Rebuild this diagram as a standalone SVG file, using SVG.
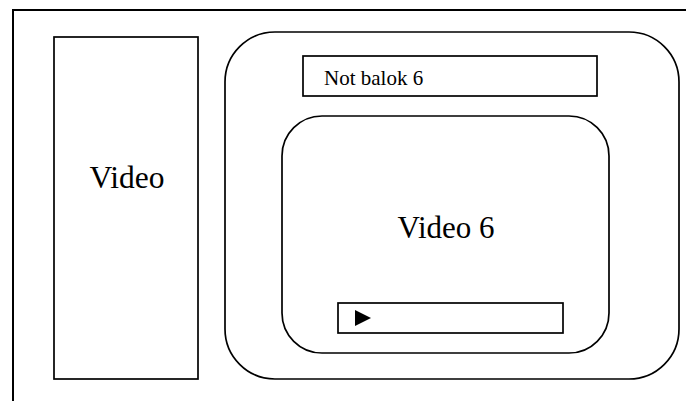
<svg xmlns="http://www.w3.org/2000/svg" width="686" height="401" viewBox="0 0 686 401">
  <style>
    .box { fill: #ffffff; stroke: #000000; stroke-width: 1.7; }
    .frame { fill: none; stroke: #000000; stroke-width: 2; }
    .label { font-family: "Liberation Serif", "Times New Roman", serif; fill: #000000; }
  </style>
  <rect width="686" height="401" fill="#ffffff"/>

  <!-- page frame: top and left rules -->
  <g id="frame">
    <path class="frame" d="M13,401 V10 H686"/>
  </g>

  <!-- left video panel -->
  <g id="video-panel">
    <rect class="box" x="54" y="37" width="144" height="342"/>
    <text class="label" x="127" y="188" font-size="31.5" text-anchor="middle">Video</text>
  </g>

  <!-- right content card -->
  <g id="content-card">
    <rect class="box" x="225" y="32" width="454" height="347" rx="50" ry="50"/>
  </g>

  <!-- title bar -->
  <g id="title-bar">
    <rect class="box" x="303" y="56" width="294" height="40"/>
    <text class="label" x="324" y="85" font-size="21">Not balok 6</text>
  </g>

  <!-- video player -->
  <g id="player">
    <rect class="box" x="282" y="116" width="327" height="237" rx="40" ry="40"/>
    <text class="label" x="446" y="238" font-size="31" text-anchor="middle">Video 6</text>
  </g>

  <!-- player controls -->
  <g id="controls">
    <rect class="box" x="338" y="303" width="225" height="30"/>
    <polygon points="355,310 371,318 355,326" fill="#000000"/>
  </g>
</svg>
